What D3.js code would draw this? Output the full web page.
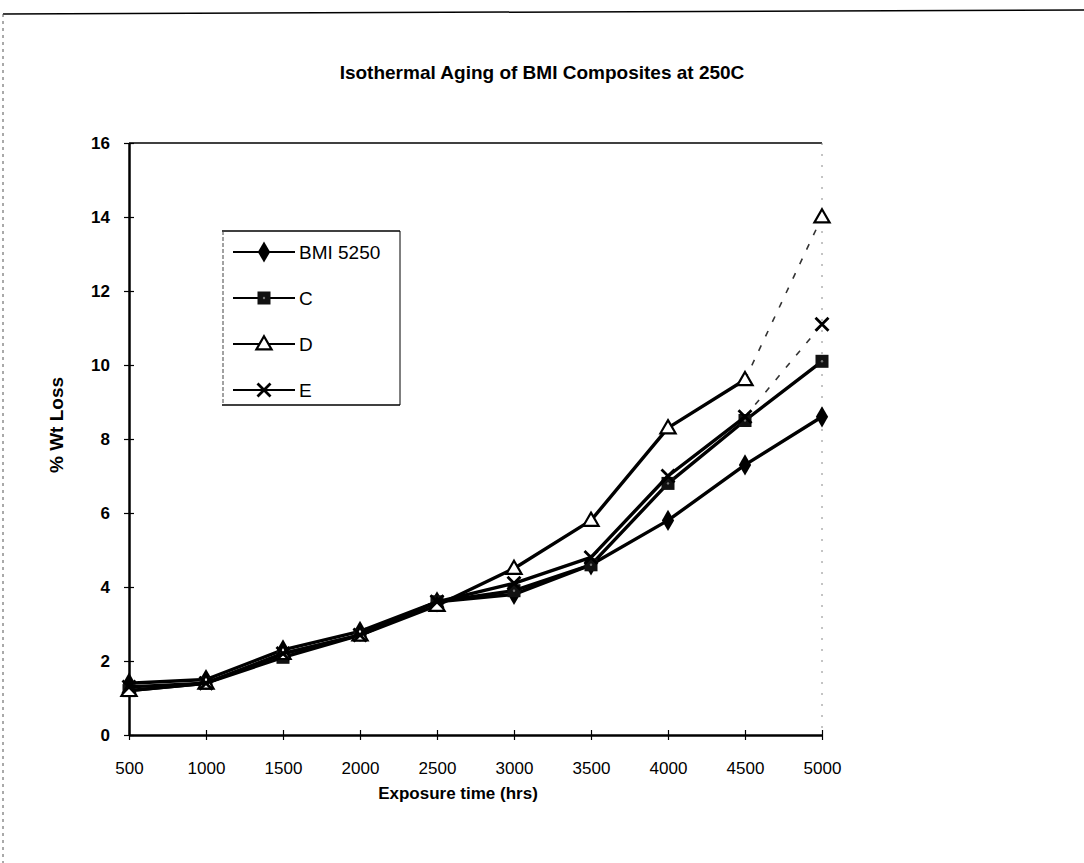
<!DOCTYPE html>
<html>
<head>
<meta charset="utf-8">
<script src="https://cdn.jsdelivr.net/npm/d3@7"></script>
<style>
  body { margin: 0; background: #fff; }
  svg { display: block; font-family: "Liberation Sans", Arial, sans-serif; }
</style>
</head>
<body>
<svg width="1084" height="863"></svg>
<script>
const hours = ['500', '1000', '1500', '2000', '2500', '3000', '3500', '4000', '4500', '5000'];
const bmi = [1.4, 1.5, 2.3, 2.8, 3.6, 3.8, 4.6, 5.8, 7.3, 8.6];
const seriesC = [1.2, 1.4, 2.1, 2.7, 3.6, 3.9, 4.6, 6.8, 8.5, 10.1];
const seriesD = [1.2, 1.4, 2.2, 2.7, 3.5, 4.5, 5.8, 8.3, 9.6, 14.0];
const seriesE = [1.3, 1.4, 2.2, 2.7, 3.6, 4.1, 4.8, 7.0, 8.6, 11.1];
const seriesNames = ['BMI 5250', 'C', 'D', 'E'];
const markers = ['diamond', 'square', 'triangle', 'cross'];
const yTicks = [0, 2, 4, 6, 8, 10, 12, 14, 16];

const svg = d3.select('svg');

const x = d3.scalePoint().domain(hours).range([129, 822]);
const y = d3.scaleLinear().domain([0, 16]).range([735, 143]);

// scanned page frame
svg.append('line')
  .attr('x1', 3).attr('y1', 14).attr('x2', 1084).attr('y2', 10)
  .attr('stroke', '#000').attr('stroke-width', 1.5);
svg.append('line')
  .attr('x1', 3).attr('y1', 14).attr('x2', 3).attr('y2', 863)
  .attr('stroke', '#555').attr('stroke-width', 1)
  .attr('stroke-dasharray', '3,4');

// title
svg.append('text')
  .attr('x', 542).attr('y', 79)
  .attr('text-anchor', 'middle')
  .attr('font-size', 19).attr('font-weight', 'bold')
  .text('Isothermal Aging of BMI Composites at 250C');

// plot frame: top line + faint dotted right edge
svg.append('line')
  .attr('x1', x('500')).attr('x2', x('5000'))
  .attr('y1', y(16)).attr('y2', y(16))
  .attr('stroke', '#000').attr('stroke-width', 1.5);
svg.append('line')
  .attr('x1', x('5000')).attr('x2', x('5000'))
  .attr('y1', y(16)).attr('y2', y(0))
  .attr('stroke', '#888').attr('stroke-width', 1)
  .attr('stroke-dasharray', '2,9');

// axes
const yAxis = d3.axisLeft(y).tickValues(yTicks).tickSize(0).tickPadding(19);
const gy = svg.append('g').attr('transform', 'translate(' + x('500') + ',0)').call(yAxis);
gy.select('.domain').attr('stroke-width', 2.5);
gy.selectAll('.tick').append('line')
  .attr('x1', -5).attr('x2', 5).attr('stroke', '#000').attr('stroke-width', 1.2);
gy.selectAll('.tick text').attr('font-size', 17).attr('font-weight', 'bold').attr('fill', '#000')
  .attr('font-family', '"Liberation Sans", Arial, sans-serif');

const xAxis = d3.axisBottom(x).tickSize(0).tickPadding(27);
const gx = svg.append('g').attr('transform', 'translate(0,' + y(0) + ')').call(xAxis);
gx.select('.domain').attr('stroke-width', 2.5);
gx.selectAll('.tick').append('line')
  .attr('y1', -5).attr('y2', 5).attr('stroke', '#000').attr('stroke-width', 1.2);
gx.selectAll('.tick text').attr('font-size', 17).attr('fill', '#000')
  .attr('font-family', '"Liberation Sans", Arial, sans-serif');

// axis titles
svg.append('text')
  .attr('x', 458).attr('y', 799)
  .attr('text-anchor', 'middle')
  .attr('font-size', 17).attr('font-weight', 'bold')
  .text('Exposure time (hrs)');
svg.append('text')
  .attr('transform', 'translate(63,425) rotate(-90)')
  .attr('text-anchor', 'middle')
  .attr('font-size', 19).attr('font-weight', 'bold')
  .text('% Wt Loss');

// markers
function drawMarker(g, type, cx, cy) {
  if (type === 'diamond') {
    g.append('path')
      .attr('d', d3.symbol().type(d3.symbolDiamond).size(130)())
      .attr('transform', 'translate(' + cx + ',' + cy + ')')
      .attr('fill', '#000');
  } else if (type === 'square') {
    g.append('rect')
      .attr('x', cx - 6.5).attr('y', cy - 6.5).attr('width', 13).attr('height', 13)
      .attr('fill', '#111');
    g.append('circle').attr('cx', cx).attr('cy', cy).attr('r', 1.2).attr('fill', '#777');
  } else if (type === 'triangle') {
    g.append('path')
      .attr('d', d3.symbol().type(d3.symbolTriangle).size(100)())
      .attr('transform', 'translate(' + cx + ',' + (cy + 1) + ')')
      .attr('fill', '#fff').attr('stroke', '#000').attr('stroke-width', 2.2);
  } else {
    g.append('path')
      .attr('d', 'M-6.5,-6.5L6.5,6.5M-6.5,6.5L6.5,-6.5')
      .attr('transform', 'translate(' + cx + ',' + cy + ')')
      .attr('stroke', '#000').attr('stroke-width', 2.8).attr('fill', 'none');
  }
}

const allSeries = [bmi, seriesC, seriesD, seriesE];
const line = d3.line().x((d, i) => x(hours[i])).y(d => y(d));

// draw lines: solid up to 4500, last segment faint dashed for D and E
allSeries.forEach((vals, s) => {
  const g = svg.append('g');
  const dashedLast = (s === 2 || s === 3);
  const solidPart = dashedLast ? vals.slice(0, vals.length - 1) : vals;
  g.append('path')
    .attr('d', line(solidPart))
    .attr('fill', 'none').attr('stroke', '#000').attr('stroke-width', 3.4)
    .attr('stroke-linejoin', 'round');
  if (dashedLast) {
    const n = vals.length;
    g.append('line')
      .attr('x1', x(hours[n - 2])).attr('y1', y(vals[n - 2]))
      .attr('x2', x(hours[n - 1])).attr('y2', y(vals[n - 1]))
      .attr('stroke', '#333').attr('stroke-width', 1.6)
      .attr('stroke-dasharray', '6,10');
  }
  vals.forEach((v, i) => drawMarker(g, markers[s], x(hours[i]), y(v)));
});

// legend
const legend = svg.append('g');
legend.append('line').attr('x1', 222).attr('x2', 400).attr('y1', 231).attr('y2', 231)
  .attr('stroke', '#000').attr('stroke-width', 1.5);
legend.append('line').attr('x1', 222).attr('x2', 400).attr('y1', 405).attr('y2', 405)
  .attr('stroke', '#000').attr('stroke-width', 1.5);
legend.append('line').attr('x1', 223).attr('x2', 223).attr('y1', 231).attr('y2', 405)
  .attr('stroke', '#444').attr('stroke-width', 1).attr('stroke-dasharray', '4,2');
legend.append('line').attr('x1', 400).attr('x2', 400).attr('y1', 231).attr('y2', 405)
  .attr('stroke', '#000').attr('stroke-width', 1);

seriesNames.forEach((name, i) => {
  const ly = 252 + i * 46;
  legend.append('line').attr('x1', 233).attr('x2', 295).attr('y1', ly).attr('y2', ly)
    .attr('stroke', '#000').attr('stroke-width', 2);
  drawMarker(legend, markers[i], 264, ly);
  legend.append('text')
    .attr('x', 299).attr('y', ly + 7)
    .attr('font-size', 19)
    .text(name);
});
</script>
</body>
</html>
